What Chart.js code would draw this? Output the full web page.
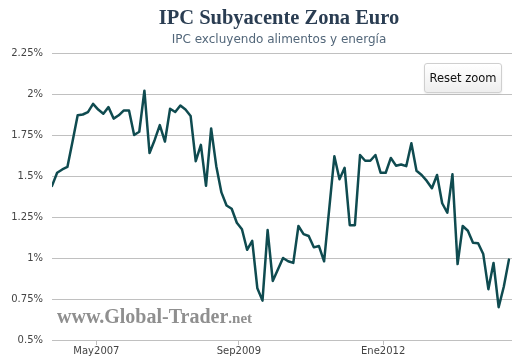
<!DOCTYPE html>
<html>
<head>
<meta charset="utf-8">
<script src="https://cdn.jsdelivr.net/npm/chart.js@4.4.1/dist/chart.umd.min.js"></script>
<style>
  html, body { margin: 0; padding: 0; background: #fff; }
  #wrap { position: relative; width: 528px; height: 362px; }
  #title { position: absolute; left: 0; width: 558px; top: 6px; text-align: center;
    font: bold 20.5px "Liberation Serif", serif; color: #2a3d52; }
  #subtitle { position: absolute; left: 0; width: 558px; top: 32px; text-align: center;
    font: 12px "DejaVu Sans", sans-serif; color: #53677a; }
  #watermark { position: absolute; left: 57px; top: 305px; color: #8f8f8f;
    font: bold 20px "Liberation Serif", serif; pointer-events: none; }
  #watermark span { font-size: 15px; }
  #reset { position: absolute; left: 424px; top: 63px; width: 78px; height: 30px;
    box-sizing: border-box; border: 1px solid #cfcfcf; border-radius: 3px;
    background: linear-gradient(#ffffff, #eeeeee); box-shadow: 0 1px 2px rgba(0,0,0,0.08);
    font: 11.5px "DejaVu Sans", sans-serif; color: #111; line-height: 28px; text-align: center; }
  canvas { position: absolute; left: 0; top: 0; }
</style>
</head>
<body>
<div id="wrap">
  <canvas id="chart" width="528" height="362"></canvas>
  <div id="title">IPC Subyacente Zona Euro</div>
  <div id="subtitle">IPC excluyendo alimentos y energía</div>
  <div id="watermark">www.Global-Trader<span>.net</span></div>
  <div id="reset">Reset zoom</div>
</div>
<script>
// monthly values (%)
const coreValues = [
  1.44, 1.52, 1.54, 1.555, 1.71, 1.87, 1.875, 1.89, 1.94, 1.905,
  1.88, 1.92, 1.85, 1.87, 1.90, 1.90, 1.75, 1.77, 2.02, 1.64,
  1.72, 1.81, 1.71, 1.91, 1.89, 1.93, 1.905, 1.866, 1.59, 1.69,
  1.44, 1.79, 1.56, 1.40, 1.32, 1.30, 1.215, 1.175, 1.05, 1.105,
  0.815, 0.74, 1.17, 0.86, 0.93, 1.00, 0.98, 0.97, 1.195, 1.146,
  1.134, 1.065, 1.073, 0.98, 1.30, 1.62, 1.48, 1.55, 1.20, 1.20,
  1.628, 1.593, 1.593, 1.628, 1.52, 1.52, 1.61, 1.563, 1.57, 1.56,
  1.70, 1.532, 1.506, 1.47, 1.425, 1.506, 1.334, 1.276, 1.51, 0.963,
  1.195, 1.166, 1.093, 1.09, 1.024, 0.81, 0.97, 0.70, 0.825, 0.99
];
// x axis ticks, in month-index units
const xTickPositions = [8.65, 36.4, 64.5];
const xTickLabels = ['May2007', 'Sep2009', 'Ene2012'];
const xMax = 89.6;
const yMin = 0.5, yMax = 2.25, yStep = 0.25;

const points = coreValues.map((v, i) => ({ x: i, y: v }));

new Chart(document.getElementById('chart'), {
  type: 'line',
  data: {
    datasets: [{
      data: points,
      borderColor: '#0f4b50',
      borderWidth: 2.5,
      pointRadius: 0,
      tension: 0,
      borderJoinStyle: 'round',
      borderCapStyle: 'round'
    }]
  },
  options: {
    responsive: false,
    animation: false,
    layout: { padding: { top: 53, right: 16, left: 0, bottom: 0 } },
    plugins: { legend: { display: false }, tooltip: { enabled: false } },
    scales: {
      x: {
        type: 'linear',
        min: 0,
        max: xMax,
        afterBuildTicks: s => { s.ticks = xTickPositions.map(v => ({ value: v })); },
        afterFit: s => { s.height = 22; },
        border: { display: false },
        grid: { drawOnChartArea: false, tickLength: 5, color: '#c0c0c0' },
        ticks: {
          autoSkip: false,
          maxRotation: 0,
          padding: 0,
          color: '#444',
          font: { family: 'DejaVu Sans', size: 10 },
          callback: (v, i) => xTickLabels[i]
        }
      },
      y: {
        min: yMin,
        max: yMax,
        afterFit: s => { s.width = 52; },
        border: { display: false },
        grid: { color: '#c0c0c0', drawTicks: false },
        ticks: {
          stepSize: yStep,
          padding: 9,
          color: '#444',
          font: { family: 'DejaVu Sans', size: 10 },
          callback: v => v + '%'
        }
      }
    }
  }
});
</script>
</body>
</html>
